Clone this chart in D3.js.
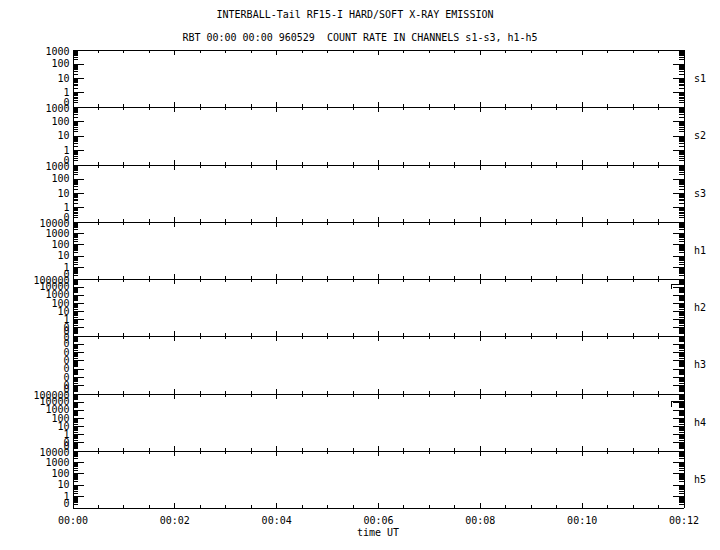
<!DOCTYPE html>
<html>
<head>
<meta charset="utf-8">
<script src="https://cdn.jsdelivr.net/npm/d3@7"></script>
<style>
  html, body { margin: 0; padding: 0; background: #fff; }
  svg { display: block; }
  text { font-family: "DejaVu Sans Mono", "Liberation Mono", monospace; font-size: 10px; fill: #000; }
</style>
</head>
<body>
<svg id="chart" width="720" height="550"></svg>
<script>
// ---- data ----
const titleLines = ["INTERBALL-Tail RF15-I HARD/SOFT X-RAY EMISSION",
                    "RBT 00:00 00:00 960529  COUNT RATE IN CHANNELS s1-s3, h1-h5"];
const channels = ["s1", "s2", "s3", "h1", "h2", "h3", "h4", "h5"];
const yMin = [0.1, 0.1, 0.1, 0.1, 0.01, 1e-8, 0.01, 0.1];
const yMax = [1000, 1000, 1000, 10000, 100000, 0.1, 100000, 10000];
const xMajorTicks = [0, 2, 4, 6, 8, 10, 12];          // minutes
const xTickLabels = ["00:00", "00:02", "00:04", "00:06", "00:08", "00:10", "00:12"];
const xMinorStep = 0.5;                                 // minutes
const xLabel = "time UT";
// small traces visible at the very end of the interval (minutes, counts)
const h2Time = [11.76, 11.76, 12.0];
const h2Rate = [6800, 23000, 23000];
const h4Time = [11.76, 11.76, 12.0];
const h4Rate = [2800, 12600, 12600];
const traces = { h2: [h2Time, h2Rate], h4: [h4Time, h4Rate] };

// ---- layout ----
const svg = d3.select("#chart");
const mL = 72.5, mR = 683.5, mT = 49.5, mB = 507.5;
const nP = channels.length;
const panelH = (mB - mT) / nP;

const x = d3.scaleLinear().domain([0, 12]).range([mL, mR]);
const xMinor = d3.range(0, 12 + 1e-9, xMinorStep).filter(v => !xMajorTicks.includes(v));

svg.append("rect").attr("width", 720).attr("height", 550).attr("fill", "#fff");

// titles
svg.append("text").attr("x", 355).attr("y", 18).attr("text-anchor", "middle").text(titleLines[0]);
svg.append("text").attr("x", 360).attr("y", 41).attr("text-anchor", "middle")
  .attr("xml:space", "preserve").style("white-space", "pre").text(titleLines[1]);

const fmt = d => d3.format(".0f")(d);

function styleAxis(g) {
  g.selectAll("path, line").attr("stroke", "#000").attr("stroke-width", 1).attr("shape-rendering", "crispEdges");
  g.selectAll("text").attr("font-family", null).attr("font-size", null).attr("fill", "#000");
}

channels.forEach((ch, i) => {
  const y0 = mT + i * panelH, y1 = mT + (i + 1) * panelH;
  const yt = Math.round(y0 - 0.5) + 0.5, yb = Math.round(y1 - 0.5) + 0.5;
  const y = d3.scaleLog().domain([yMin[i], yMax[i]]).range([yb, yt]);
  const lo = Math.round(Math.log10(yMin[i])), hi = Math.round(Math.log10(yMax[i]));
  const majors = d3.range(lo, hi + 1).map(k => Math.pow(10, k));
  const minors = [];
  for (let k = lo; k < hi; k++) for (let j = 2; j <= 9; j++) minors.push(j * Math.pow(10, k));

  const p = svg.append("g");
  // left axis
  p.append("g").attr("transform", `translate(${mL},0)`)
    .call(d3.axisLeft(y).tickValues(minors).tickSizeInner(-5).tickSizeOuter(0).tickFormat(""))
    .call(styleAxis);
  const la = p.append("g").attr("transform", `translate(${mL},0)`)
    .call(d3.axisLeft(y).tickValues(majors).tickSizeInner(-11).tickSizeOuter(0).tickPadding(3).tickFormat(fmt))
    .call(styleAxis);
  // end labels sit slightly inside the panel, as in the reference
  la.selectAll(".tick text")
    .attr("y", (d, k) => k === 0 ? -4 : (k === majors.length - 1 ? 2 : 0));
  // right axis
  p.append("g").attr("transform", `translate(${mR},0)`)
    .call(d3.axisRight(y).tickValues(minors).tickSizeInner(-5).tickSizeOuter(0).tickFormat(""))
    .call(styleAxis);
  p.append("g").attr("transform", `translate(${mR},0)`)
    .call(d3.axisRight(y).tickValues(majors).tickSizeInner(-11).tickSizeOuter(0).tickFormat(""))
    .call(styleAxis);
  // top and bottom time axes
  p.append("g").attr("transform", `translate(0,${yt})`)
    .call(d3.axisTop(x).tickValues(xMinor).tickSizeInner(-3).tickSizeOuter(0).tickFormat(""))
    .call(styleAxis);
  p.append("g").attr("transform", `translate(0,${yt})`)
    .call(d3.axisTop(x).tickValues(xMajorTicks).tickSizeInner(-5).tickSizeOuter(0).tickFormat(""))
    .call(styleAxis);
  p.append("g").attr("transform", `translate(0,${yb})`)
    .call(d3.axisBottom(x).tickValues(xMinor).tickSizeInner(-3).tickSizeOuter(0).tickFormat(""))
    .call(styleAxis);
  const last = i === nP - 1;
  p.append("g").attr("transform", `translate(0,${yb})`)
    .call(d3.axisBottom(x).tickValues(xMajorTicks).tickSizeInner(-5).tickSizeOuter(0).tickPadding(9)
      .tickFormat(last ? ((d, k) => xTickLabels[k]) : ""))
    .call(styleAxis);

  // channel label
  p.append("text").attr("x", 694).attr("y", (yt + yb) / 2).attr("dy", "0.35em").text(ch);

  // traces
  if (traces[ch]) {
    const [tt, rr] = traces[ch];
    const pts = tt.map((t, k) => [t, rr[k]]);
    p.append("path").datum(pts)
      .attr("fill", "none").attr("stroke", "#000").attr("stroke-width", 1)
      .attr("shape-rendering", "crispEdges")
      .attr("d", d3.line().x(d => Math.round(x(d[0])) + 0.5).y(d => Math.round(y(d[1])) + 0.5));
  }
});

svg.append("text").attr("x", (mL + mR) / 2).attr("y", 536).attr("text-anchor", "middle").text(xLabel);
</script>
</body>
</html>
